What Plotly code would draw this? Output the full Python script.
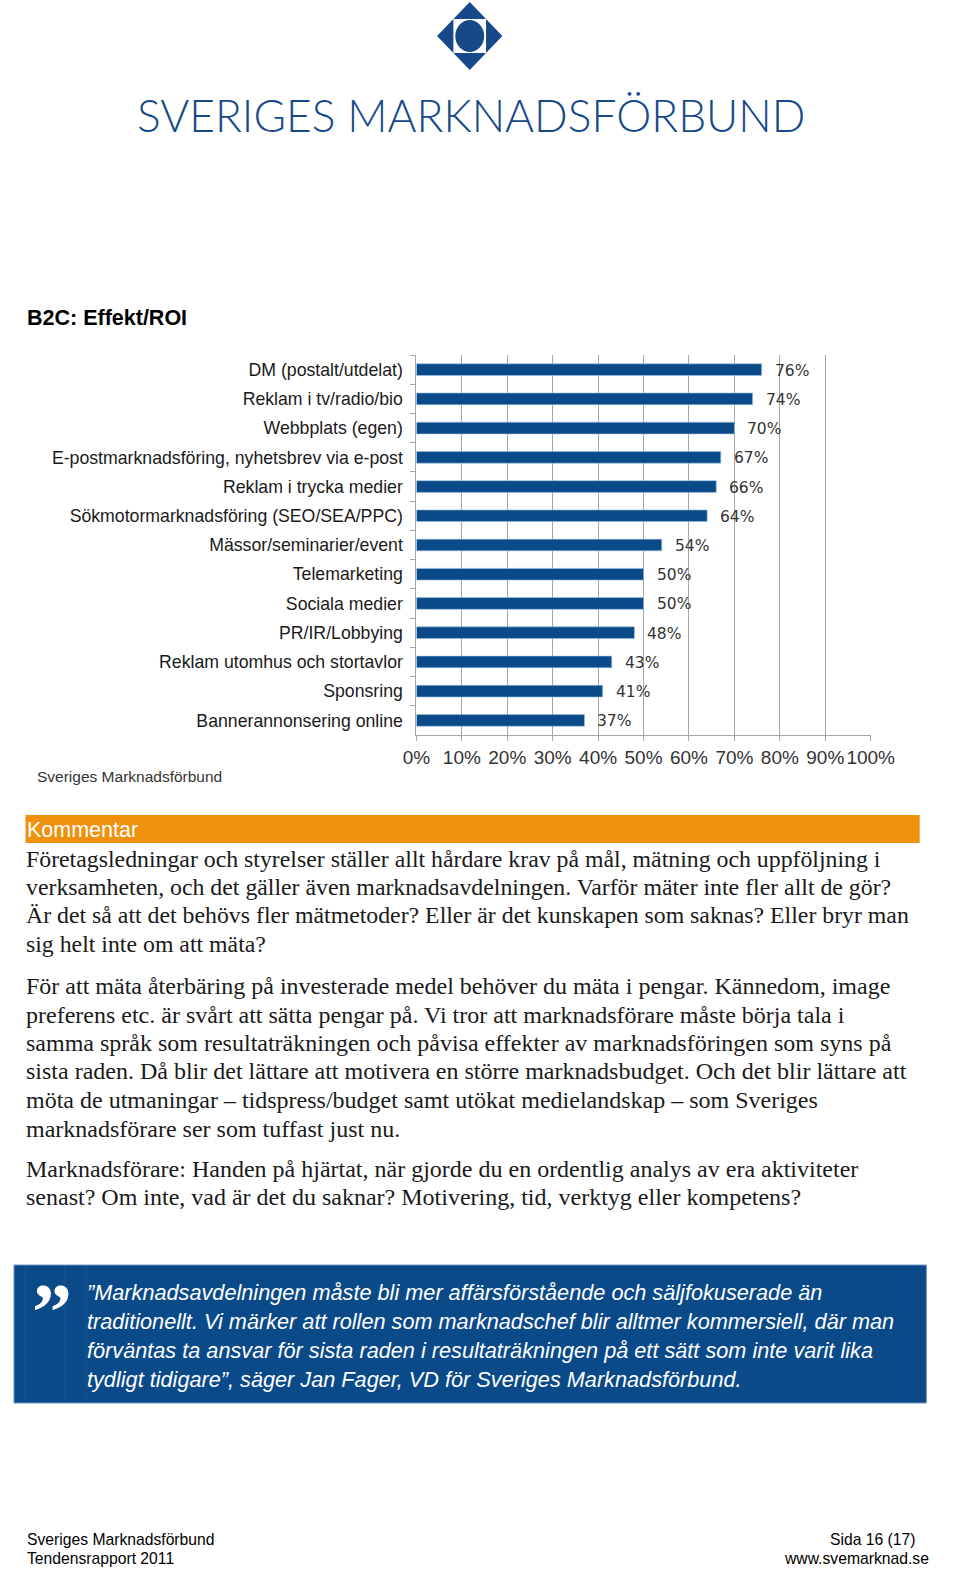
import plotly.graph_objects as go

# ---------------- data ----------------
categories = [
    "DM (postalt/utdelat)",
    "Reklam i tv/radio/bio",
    "Webbplats (egen)",
    "E-postmarknadsföring, nyhetsbrev via e-post",
    "Reklam i trycka medier",
    "Sökmotormarknadsföring (SEO/SEA/PPC)",
    "Mässor/seminarier/event",
    "Telemarketing",
    "Sociala medier",
    "PR/IR/Lobbying",
    "Reklam utomhus och stortavlor",
    "Sponsring",
    "Bannerannonsering online",
]
values = [76, 74, 70, 67, 66, 64, 54, 50, 50, 48, 43, 41, 37]
x_tick_values = [0, 10, 20, 30, 40, 50, 60, 70, 80, 90, 100]
x_tick_labels = ["0%", "10%", "20%", "30%", "40%", "50%", "60%", "70%", "80%", "90%", "100%"]

title_text = "B2C: Effekt/ROI"
source_text = "Sveriges Marknadsförbund"
logo_text = "SVERIGES MARKNADSFÖRBUND"

comment_header = "Kommentar"
para1 = [
    "Företagsledningar och styrelser ställer allt hårdare krav på mål, mätning och uppföljning i",
    "verksamheten, och det gäller även marknadsavdelningen. Varför mäter inte fler allt de gör?",
    "Är det så att det behövs fler mätmetoder? Eller är det kunskapen som saknas? Eller bryr man",
    "sig helt inte om att mäta?",
]
para2 = [
    "För att mäta återbäring på investerade medel behöver du mäta i pengar. Kännedom, image",
    "preferens etc. är svårt att sätta pengar på. Vi tror att marknadsförare måste börja tala i",
    "samma språk som resultaträkningen och påvisa effekter av marknadsföringen som syns på",
    "sista raden. Då blir det lättare att motivera en större marknadsbudget. Och det blir lättare att",
    "möta de utmaningar – tidspress/budget samt utökat medielandskap – som Sveriges",
    "marknadsförare ser som tuffast just nu.",
]
para3 = [
    "Marknadsförare: Handen på hjärtat, när gjorde du en ordentlig analys av era aktiviteter",
    "senast? Om inte, vad är det du saknar? Motivering, tid, verktyg eller kompetens?",
]
quote_lines = [
    "”Marknadsavdelningen måste bli mer affärsförstående och säljfokuserade än",
    "traditionellt. Vi märker att rollen som marknadschef blir alltmer kommersiell, där man",
    "förväntas ta ansvar för sista raden i resultaträkningen på ett sätt som inte varit lika",
    "tydligt tidigare”, säger Jan Fager, VD för Sveriges Marknadsförbund.",
]
footer_left = ["Sveriges Marknadsförbund", "Tendensrapport 2011"]
footer_right = ["Sida 16 (17)", "www.svemarknad.se"]

# ---------------- page geometry helpers ----------------
W, H = 960, 1582


def X(px):
    return px / W


def Y(py):
    return 1 - py / H


BAR_BLUE = "#0b4a89"
LOGO_BLUE = "#17498a"
ORANGE = "#f0910d"
GRID = "#a6a6a6"

fig = go.Figure()
fig.add_trace(
    go.Bar(
        x=values,
        y=categories,
        orientation="h",
        marker=dict(color=BAR_BLUE, line=dict(color="#9cc3e6", width=0.6)),
        hoverinfo="x+y",
    )
)

annotations = []
# data labels
for c, v in zip(categories, values):
    annotations.append(
        dict(
            x=v, y=c, xref="x", yref="y", text=f"{v}%", showarrow=False,
            xanchor="left", yanchor="middle", xshift=11, yshift=-1,
            font=dict(family="DejaVu Sans", size=15.5, color="#333333"),
        )
    )


def txt(px, py, text, size, family="Liberation Sans", color="#000000",
        anchor="left", weight="normal", style="normal"):
    annotations.append(
        dict(
            x=X(px), y=Y(py), xref="paper", yref="paper", text=text,
            showarrow=False, xanchor=anchor, yanchor="middle",
            font=dict(family=family, size=size, color=color, weight=weight, style=style),
        )
    )


# logo text
txt(476, 114, logo_text, 44.3, family="Lato", color=LOGO_BLUE, anchor="center", weight=300)
# title
txt(11, 318, title_text, 21.5, weight="bold")
# source
txt(22, 776, source_text, 15.5, color="#333333")
# Kommentar header
txt(11, 830, comment_header, 21.5, color="#ffffff")

# paragraphs
p1_y = [859, 887, 915, 944]
for line, yy in zip(para1, p1_y):
    txt(10, yy, line, 23.8, family="Liberation Serif", color="#1a1a1a")
p2_y = [986, 1015, 1043, 1071, 1100, 1129]
for line, yy in zip(para2, p2_y):
    txt(10, yy, line, 24, family="Liberation Serif", color="#1a1a1a")
p3_y = [1169, 1197]
for line, yy in zip(para3, p3_y):
    txt(10, yy, line, 24, family="Liberation Serif", color="#1a1a1a")

# quote
txt(17, 1312, "”", 80, family="Liberation Serif", color="#ffffff", weight="bold")
q_y = [1292, 1321, 1350, 1379]
for line, yy in zip(quote_lines, q_y):
    txt(74, yy, line, 21.7, color="#ffffff", style="italic")

# footer
txt(11, 1539, footer_left[0], 15.7)
txt(11, 1558, footer_left[1], 15.7)
txt(940, 1539, footer_right[0], 15.7, anchor="right")
txt(955, 1558, footer_right[1], 15.7, anchor="right")

shapes = []
# logo diamond
cx, top, bot, hw = 474.5, 2, 70, 34
cy = (top + bot) / 2
shapes.append(dict(
    type="path", xref="paper", yref="paper",
    path=f"M {X(cx)},{Y(top)} L {X(cx + hw)},{Y(cy)} L {X(cx)},{Y(bot)} L {X(cx - hw)},{Y(cy)} Z",
    fillcolor=LOGO_BLUE, line=dict(width=0),
))
shapes.append(dict(
    type="rect", xref="paper", yref="paper",
    x0=X(cx - hw / 2), x1=X(cx + hw / 2), y0=Y(cy + (bot - top) / 4), y1=Y(cy - (bot - top) / 4),
    fillcolor="#ffffff", line=dict(width=0),
))
shapes.append(dict(
    type="circle", xref="paper", yref="paper",
    x0=X(cx - hw / 2 + 2), x1=X(cx + hw / 2 - 2), y0=Y(cy + (bot - top) / 4 - 1), y1=Y(cy - (bot - top) / 4 + 1),
    fillcolor=LOGO_BLUE, line=dict(width=0),
))
# orange header bar
shapes.append(dict(
    type="rect", xref="paper", yref="paper",
    x0=X(12), x1=X(943), y0=Y(843), y1=Y(815),
    fillcolor=ORANGE, line=dict(width=0), layer="below",
))
# quote box
shapes.append(dict(
    type="rect", xref="paper", yref="paper",
    x0=X(0), x1=X(950), y0=Y(1403), y1=Y(1265),
    fillcolor=BAR_BLUE, line=dict(color="#6f95c0", width=1), layer="below",
))
# faint cell borders inside the quote box
for xx in (12, 53, 75):
    shapes.append(dict(
        type="line", xref="paper", yref="paper",
        x0=X(xx), x1=X(xx), y0=Y(1402), y1=Y(1266),
        line=dict(color="#1d5290", width=1), layer="below",
    ))

fig.update_layout(
    width=W, height=H,
    margin=dict(l=0, r=0, t=0, b=0),
    paper_bgcolor="#ffffff", plot_bgcolor="#ffffff",
    showlegend=False,
    bargap=0.6,
    annotations=annotations,
    shapes=shapes,
    xaxis=dict(
        domain=[X(419), X(892)],
        range=[0, 100],
        tickvals=x_tick_values, ticktext=x_tick_labels,
        tickangle=0,
        showgrid=True, gridcolor=GRID, gridwidth=1,
        showline=True, linecolor=GRID, linewidth=1,
        ticks="outside", ticklen=5, tickcolor=GRID,
        tickfont=dict(family="Liberation Sans", size=19, color="#333333"),
        ticklabelstandoff=0,
        zeroline=False, fixedrange=True,
    ),
    yaxis=dict(
        domain=[Y(735), Y(355)],
        autorange="reversed",
        showgrid=False,
        showline=True, linecolor=GRID, linewidth=1,
        ticks="outside", ticklen=5, tickcolor=GRID, tickson="boundaries",
        tickfont=dict(family="Liberation Sans", size=17.7, color="#1a1a1a"),
        ticklabelstandoff=9,
        fixedrange=True,
    ),
)

fig.write_html(
    "out.html",
    config={"displayModeBar": False},
    post_script="document.body.style.margin='0';document.body.style.overflow='hidden';",
)
